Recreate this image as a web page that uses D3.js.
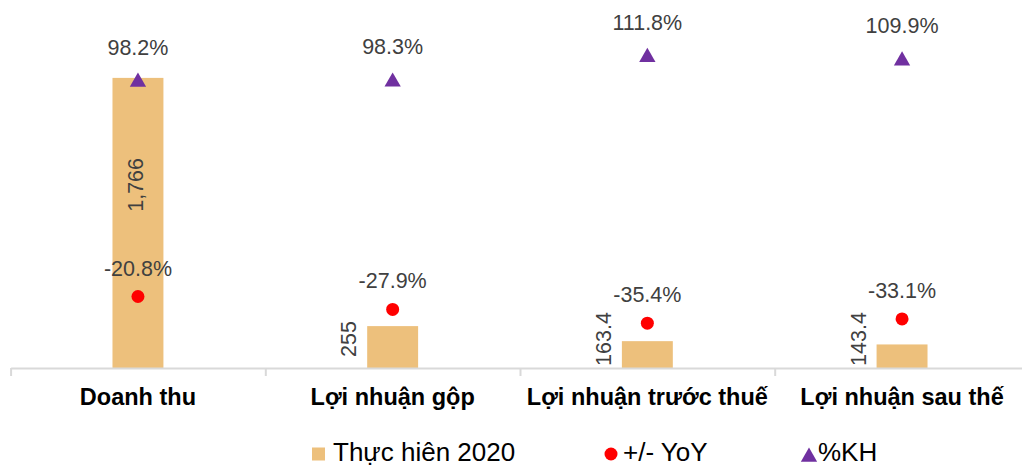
<!DOCTYPE html>
<html>
<head>
<meta charset="utf-8">
<script src="https://cdn.jsdelivr.net/npm/d3@7"></script>
<style>
  body { margin: 0; background: #fff; }
  svg { display: block; font-family: "Liberation Sans", Arial, sans-serif; }
</style>
</head>
<body>
<svg id="chart" width="1022" height="466"></svg>
<script>
const categories = ['Doanh thu', 'Lợi nhuận gộp', 'Lợi nhuận trước thuế', 'Lợi nhuận sau thế'];
const actual2020 = [1766, 255, 163.4, 143.4];
const actualLabels = ['1,766', '255', '163.4', '143.4'];
const yoy = [-20.8, -27.9, -35.4, -33.1];
const planPct = [98.2, 98.3, 111.8, 109.9];
const legendNames = ['Thực hiên 2020', '+/- YoY', '%KH'];

const svg = d3.select('#chart');
const plotLeft = 10.6, plotRight = 1029.4, plotBottom = 368, plotTop = 3.3;

const x = d3.scaleBand().domain(categories).range([plotLeft, plotRight]).padding(0);
const xEdge = d3.scaleLinear().domain([0, categories.length]).range([plotLeft, plotRight]);
const yBar = d3.scaleLinear().domain([0, 2220]).range([plotBottom, plotTop]);
const yPct = d3.scaleLinear().domain([-60, 140]).range([plotBottom, plotTop]);

const barColor = '#edc07c', dotColor = '#ff0000', triColor = '#7030a0';
const bw = x.bandwidth() * 0.2;
const cx = c => x(c) + x.bandwidth() / 2;

// bars
svg.append('g').selectAll('rect')
  .data(categories)
  .enter().append('rect')
  .attr('x', c => cx(c) - bw / 2)
  .attr('width', bw)
  .attr('y', (c, i) => yBar(actual2020[i]))
  .attr('height', (c, i) => yBar(0) - yBar(actual2020[i]))
  .attr('fill', barColor);

// axis with ticks between categories
const axis = svg.append('g')
  .attr('transform', `translate(0,${plotBottom})`)
  .call(d3.axisBottom(xEdge).tickValues(d3.range(categories.length + 1)).tickSize(8).tickSizeOuter(0).tickFormat(''));
axis.selectAll('path, line').attr('stroke', '#d9d9d9').attr('stroke-width', 2);

// bar value labels (rotated)
svg.append('g').selectAll('text')
  .data(categories)
  .enter().append('text')
  .attr('transform', (c, i) => {
    const h = yBar(0) - yBar(actual2020[i]);
    const tx = h > 100 ? cx(c) - 2 : cx(c) - bw / 2 - 18;
    const ty = h > 100 ? yBar(actual2020[i]) + 107 : yBar(0) - 29;
    return `translate(${tx},${ty}) rotate(-90)`;
  })
  .attr('text-anchor', 'middle')
  .attr('dominant-baseline', 'central')
  .attr('font-size', 21.5)
  .attr('fill', '#404040')
  .text((c, i) => actualLabels[i]);

// YoY dots
svg.append('g').selectAll('circle')
  .data(categories)
  .enter().append('circle')
  .attr('cx', cx)
  .attr('cy', (c, i) => yPct(yoy[i]))
  .attr('r', 6.5)
  .attr('fill', dotColor);

svg.append('g').selectAll('text')
  .data(categories)
  .enter().append('text')
  .attr('x', cx)
  .attr('y', (c, i) => yPct(yoy[i]) - 21)
  .attr('text-anchor', 'middle')
  .attr('font-size', 21.5)
  .attr('fill', '#404040')
  .text((c, i) => yoy[i].toFixed(1) + '%');

// %KH triangles (d3 triangle is centred on its centroid; nudge to box centre)
const tri = d3.symbol().type(d3.symbolTriangle).size(115);
svg.append('g').selectAll('path')
  .data(categories)
  .enter().append('path')
  .attr('d', tri)
  .attr('transform', (c, i) => `translate(${cx(c)},${yPct(planPct[i]) + 2.5})`)
  .attr('fill', triColor);

svg.append('g').selectAll('text')
  .data(categories)
  .enter().append('text')
  .attr('x', cx)
  .attr('y', (c, i) => yPct(planPct[i]) - 25)
  .attr('text-anchor', 'middle')
  .attr('font-size', 21.5)
  .attr('fill', '#404040')
  .text((c, i) => planPct[i].toFixed(1) + '%');

// category labels
svg.append('g').selectAll('text')
  .data(categories)
  .enter().append('text')
  .attr('x', cx)
  .attr('y', 405)
  .attr('text-anchor', 'middle')
  .attr('font-size', 23.5)
  .attr('font-weight', 'bold')
  .attr('fill', '#000')
  .text(c => c);

// legend
const legend = svg.append('g').attr('font-size', 26).attr('fill', '#000');
legend.append('rect').attr('x', 312).attr('y', 447.5).attr('width', 13).attr('height', 13).attr('fill', barColor);
legend.append('text').attr('x', 333).attr('y', 460.5).text(legendNames[0]);
legend.append('circle').attr('cx', 611).attr('cy', 454).attr('r', 6.5).attr('fill', dotColor);
legend.append('text').attr('x', 623).attr('y', 460.5).text(legendNames[1]);
legend.append('path').attr('d', tri).attr('transform', 'translate(809,457)').attr('fill', triColor);
legend.append('text').attr('x', 818).attr('y', 460.5).text(legendNames[2]);
</script>
</body>
</html>
